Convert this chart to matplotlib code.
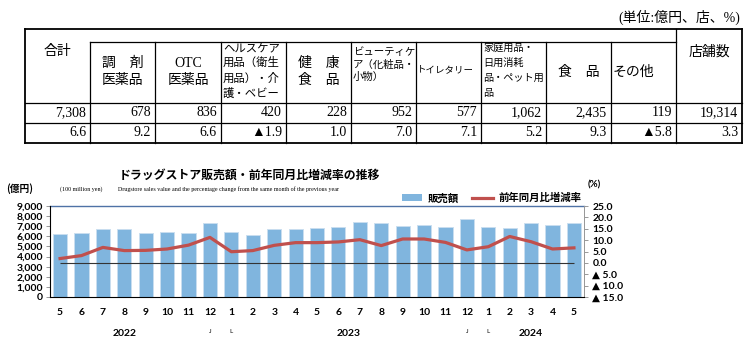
import matplotlib.pyplot as plt
from matplotlib.patches import Patch
from matplotlib.lines import Line2D
import matplotlib.transforms as mtransforms

plt.rcParams['font.family'] = ['DejaVu Sans', 'Noto Sans CJK JP']

# ---- table data ----
headers = ['合計', '調　剤\n医薬品', 'OTC\n医薬品', 'ヘルスケア\n用品（衛生\n用品）・介\n護・ベビー',
           '健　康\n食　品', 'ビューティケ\nア（化粧品・\n小物）', 'トイレタリー',
           '家庭用品・\n日用消耗\n品・ペット用\n品', '食　品', 'その他', '店舗数']
sales = ['7,308', '678', '836', '420', '228', '952', '577', '1,062', '2,435', '119', '19,314']
growth = ['6.6', '9.2', '6.6', '▲1.9', '1.0', '7.0', '7.1', '5.2', '9.3', '▲5.8', '3.3']

# ---- chart data ----
months = ['5', '6', '7', '8', '9', '10', '11', '12', '1', '2', '3', '4',
          '5', '6', '7', '8', '9', '10', '11', '12', '1', '2', '3', '4', '5']
sales_value = [6240, 6340, 6730, 6730, 6340, 6440, 6340, 7290, 6470, 6110, 6700, 6730,
               6830, 6930, 7460, 7290, 7000, 7100, 6930, 7720, 6930, 6800, 7330, 7130, 7308]
pct_change = [1.9, 3.2, 6.8, 5.4, 5.5, 6.1, 7.8, 11.2, 4.9, 5.4, 7.7, 8.9,
              8.9, 9.2, 10.2, 7.6, 10.5, 10.5, 9.0, 5.7, 7.1, 11.6, 9.3, 6.1, 6.6]
years = ['2022', '2023', '2024']
year_pos = [3.0, 13.5, 22.0]

fig = plt.figure(figsize=(7.45, 3.42), dpi=100)

# overlay in pixel coords for the table and free text
ov = fig.add_axes([0, 0, 1, 1])
ov.set_xlim(0, 745)
ov.set_ylim(342, 0)
ov.axis('off')

serif_jp = ['Liberation Serif', 'Noto Sans CJK JP']
jp = ['Noto Sans CJK JP', 'DejaVu Sans']

edges = [25, 90, 155, 221, 286, 351, 416, 481, 546, 611, 676, 742]
top, inner, hb, r1, r2 = 29, 42, 103, 123, 143
lw_out, lw_in = 1.3, 0.9
ov.plot([25, 742], [top, top], color='k', lw=lw_out)
ov.plot([90, 676], [inner, inner], color='k', lw=lw_in)
for yy in (hb, r1):
    ov.plot([25, 742], [yy, yy], color='k', lw=lw_in)
ov.plot([25, 742], [r2, r2], color='k', lw=lw_out)
for i, xx in enumerate(edges):
    y0 = top if i in (0, 10, 11) else inner
    ov.plot([xx, xx], [y0, r2], color='k', lw=lw_out if i in (0, 11) else lw_in)

centers = [(edges[i] + edges[i + 1]) / 2 for i in range(11)]
# header cells
ov.text(centers[0], 52, headers[0], ha='center', va='center', fontsize=10, family=serif_jp)
ov.text(centers[10], 52, headers[10], ha='center', va='center', fontsize=10, family=serif_jp)
for i in (1, 2, 4):
    ov.text(centers[i], 72, headers[i], ha='center', va='center', fontsize=10,
            family=serif_jp, linespacing=1.4)
ov.text(centers[8], 72, headers[8], ha='center', va='center', fontsize=10, family=serif_jp)
ov.text(edges[9] + 2, 72, headers[9], ha='left', va='center', fontsize=10, family=serif_jp)
ov.text(edges[3] + 2, 43, headers[3], ha='left', va='top', fontsize=8.2, family=jp, linespacing=1.45)
ov.text(edges[5] + 2, 47, headers[5], ha='left', va='top', fontsize=7.5, family=jp, linespacing=1.3)
ov.text(edges[6] + 1, 70, headers[6], ha='left', va='center', fontsize=6.8, family=jp)
ov.text(edges[7] + 2, 43, headers[7], ha='left', va='top', fontsize=7.3, family=jp, linespacing=1.6)

for i in range(11):
    ov.text(edges[i + 1] - 4, 113, sales[i], ha='right', va='center', fontsize=10, family=serif_jp)
    ov.text(edges[i + 1] - 4, 133, growth[i], ha='right', va='center', fontsize=10,
            family=['Liberation Serif', 'DejaVu Sans'])

ov.text(740, 17, '(単位:億円、店、%)', ha='right', va='center', fontsize=10, family=serif_jp)

# chart titles
ov.text(249, 175, 'ドラッグストア販売額・前年同月比増減率の推移', ha='center', va='center',
        fontsize=8.6, fontweight='bold', family=jp)
ov.text(20, 189, '(億円)', ha='center', va='center', fontsize=7, fontweight='bold', family=jp)
ov.text(81, 189, '(100 million yen)', ha='center', va='center', fontsize=4.3, family='Liberation Serif')
ov.text(118, 189, 'Drugstore sales value and the percentage change from the same month of the previous year',
        ha='left', va='center', fontsize=4.3, family='Liberation Serif')
ov.text(594, 185, '(%)', ha='center', va='center', fontsize=7, fontweight='bold', family='Lato')

# ---- chart ----
ax = fig.add_axes([50 / 745, 1 - 297 / 342, 534 / 745, 91 / 342])
x = list(range(len(months)))
bars = ax.bar(x, sales_value, width=0.66, color='#80b5de', edgecolor='#c9def0', linewidth=0.7, zorder=2)
ax.set_ylim(0, 9000)
ax.set_xlim(-0.47, 24.47)
ax.set_yticks(range(0, 9001, 1000))
ax.set_yticklabels(['{:,}'.format(v) for v in range(0, 9001, 1000)])
ax.set_xticks(x)
ax.set_xticklabels(months)
ax.tick_params(axis='x', length=0, pad=8, labelsize=7.5)
ax.tick_params(axis='y', length=3, width=0.6, color='#888888', pad=2, labelsize=7.5)
for lab in ax.get_xticklabels() + ax.get_yticklabels():
    lab.set_fontfamily('Lato')
    lab.set_fontweight('bold')
ax.spines['top'].set_color('#4f72a6')
ax.spines['top'].set_linewidth(1.0)
for s in ('left', 'right', 'bottom'):
    ax.spines[s].set_color('#999999')
    ax.spines[s].set_linewidth(0.7)

ax2 = ax.twinx()
line, = ax2.plot(x, pct_change, color='#c0504d', lw=2.3, zorder=3)
ax2.hlines(0, 0, 24, color='#333333', lw=0.8)
ax2.set_ylim(-15, 25)
ax2.set_yticks(range(-15, 26, 5))
ax2.set_yticklabels(['▲ {:.1f}'.format(-v) if v < 0 else '{:.1f}'.format(v) for v in range(-15, 26, 5)])
ax2.tick_params(axis='y', length=3, width=0.6, color='#888888', pad=3, labelsize=7.5)
for lab in ax2.get_yticklabels():
    lab.set_fontfamily(['Lato', 'DejaVu Sans'])
    lab.set_fontweight('bold')
ax2.spines['top'].set_visible(False)
ax2.spines['right'].set_color('#999999')
ax2.spines['right'].set_linewidth(0.7)

trans = mtransforms.blended_transform_factory(ax.transData, ax.transAxes)
for yr, xp in zip(years, year_pos):
    ax.text(xp, -0.40, yr, transform=trans, ha='center', va='center', fontsize=7.5,
            fontweight='bold', family='Lato')
for xp in (7, 19):
    ax.text(xp, -0.38, 'J', transform=trans, ha='center', va='center', fontsize=4.5, family='Lato')
    ax.text(xp + 1, -0.38, 'L', transform=trans, ha='center', va='center', fontsize=4.5, family='Lato')

ax2.legend([Patch(facecolor='#80b5de', edgecolor='none'), Line2D([], [], color='#c0504d', lw=2.3)],
           ['販売額', '前年同月比増減率'], ncol=2, loc='center right', bbox_to_anchor=(0.995, 1.085),
           frameon=False, handlelength=2.0, handletextpad=0.5, columnspacing=1.3,
           prop={'family': jp, 'weight': 'bold', 'size': 7.5}, borderaxespad=0, borderpad=0)

fig.savefig('out.png', dpi=100)
